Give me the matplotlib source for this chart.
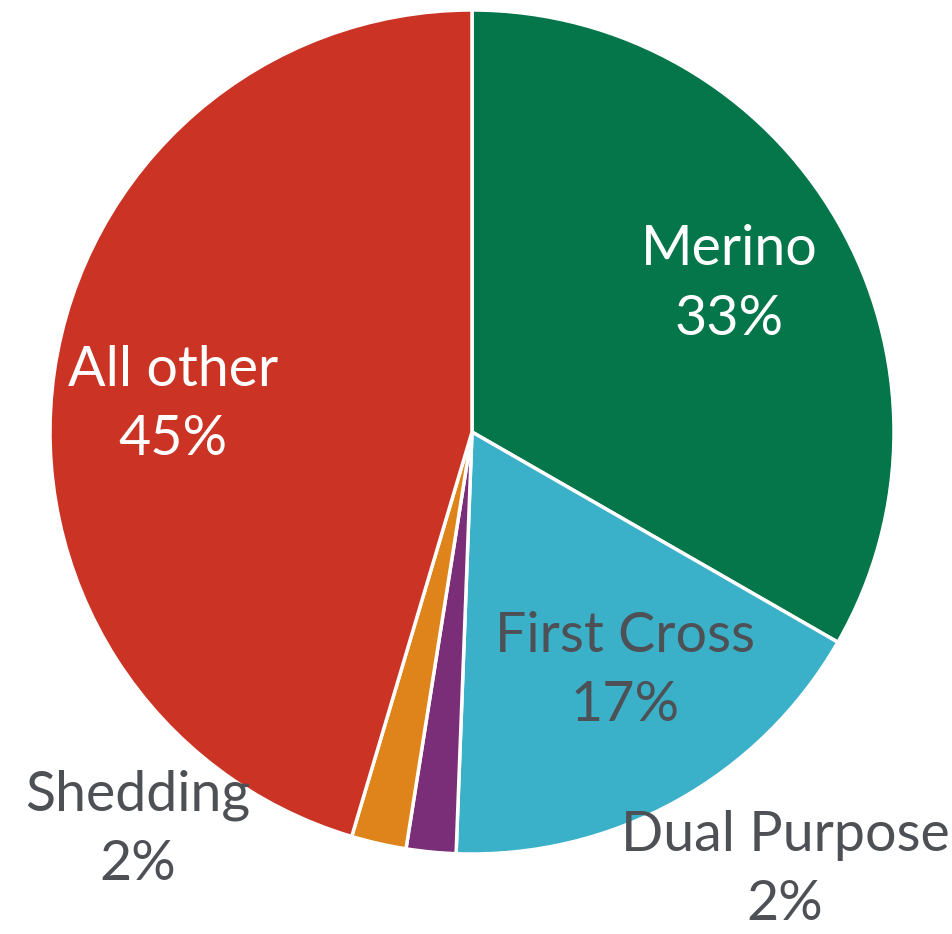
import matplotlib.pyplot as plt

# sheep flock by breed type, share of total
breeds = ["Merino", "First Cross", "Dual Purpose", "Shedding", "All other"]
shares = [33.3, 17.3, 1.9, 2.1, 45.4]
pct_labels = ["33%", "17%", "2%", "2%", "45%"]
colours = ["#05754A", "#3BB0C9", "#7A2E78", "#DE841B", "#CB3424"]
text_colours = ["white", "#4D5156", "#4D5156", "#4D5156", "white"]
# label centres in pie units (radius = 1)
label_xy = [(0.61, 0.35), (0.363, -0.566), (0.742, -1.038), (-0.791, -0.943), (-0.708, 0.064)]

fig = plt.figure(figsize=(9.53, 9.34), dpi=100)
ax = fig.add_axes([0, 0, 1, 1])
ax.axis("off")

ax.pie(shares, colors=colours, startangle=90, counterclock=False,
       radius=1.0, center=(0, 0),
       wedgeprops=dict(edgecolor="white", linewidth=2.5))

for name, pct, (x, y), tc in zip(breeds, pct_labels, label_xy, text_colours):
    ax.text(x, y, f"{name}\n{pct}", ha="center", va="center",
            fontsize=40, color=tc, family="Lato", linespacing=1.45)

ax.set_xlim(-472 / 422, 481 / 422)
ax.set_ylim(-502 / 422, 432 / 422)
ax.set_aspect("equal")

fig.savefig("out.png", dpi=100)
